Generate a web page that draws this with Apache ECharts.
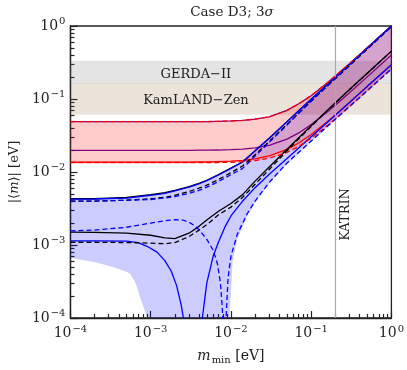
<!DOCTYPE html>
<html>
<head>
<meta charset="utf-8">
<script src="https://cdn.jsdelivr.net/npm/echarts@6/dist/echarts.min.js"></script>
<style>
  html, body { margin: 0; padding: 0; background: #fff; }
  #chart { width: 407px; height: 370px; }
</style>
</head>
<body>
<div id="chart"></div>
<script>
  // m_min grid (eV) for the smooth curves
  const mGrid = [1e-4, 2e-4, 5e-4, 1e-3, 1.5e-3, 2e-3, 3e-3, 4e-3, 5e-3, 7e-3, 1e-2, 1.4e-2,
    2e-2, 3e-2, 5e-2, 7e-2, 0.1, 0.15, 0.2, 0.3, 0.5, 0.7, 1];

  // inverted ordering (red band + purple/red model lines)
  const ioUpper = [0.049, 0.049, 0.049, 0.049, 0.049, 0.049, 0.049, 0.049, 0.049, 0.0495, 0.050, 0.051,
    0.053, 0.057, 0.070, 0.086, 0.111, 0.158, 0.206, 0.304, 0.502, 0.70, 1.0];
  const ioLower = [0.0135, 0.0135, 0.0135, 0.0135, 0.0135, 0.0135, 0.0135, 0.0135, 0.0135, 0.0135, 0.0136, 0.0138,
    0.0143, 0.0154, 0.0185, 0.0224, 0.029, 0.041, 0.053, 0.0786, 0.130, 0.181, 0.258];
  const purpleMid = [0.0198, 0.0198, 0.0198, 0.0198, 0.0198, 0.0198, 0.0198, 0.0199, 0.0199, 0.0200, 0.0202, 0.0206,
    0.0214, 0.0232, 0.0282, 0.0343, 0.0447, 0.0632, 0.0824, 0.1216, 0.201, 0.281, 0.40];
  const redSolidLow = [0.0136, 0.0136, 0.0136, 0.0136, 0.0136, 0.0136, 0.0136, 0.0137, 0.0137, 0.0139, 0.0141, 0.0144,
    0.0151, 0.0166, 0.0204, 0.0250, 0.0327, 0.0465, 0.0606, 0.0896, 0.148, 0.207, 0.295];

  // normal ordering (blue band + blue/black model lines)
  const nuUpper = [0.00425, 0.00427, 0.0044, 0.0048, 0.0051, 0.0055, 0.0062, 0.0069, 0.0076, 0.0091, 0.0112, 0.0138,
    0.0195, 0.029, 0.049, 0.069, 0.099, 0.149, 0.199, 0.30, 0.50, 0.70, 1.0];
  const blackSolidUp = [0.0043, 0.0043, 0.0045, 0.0049, 0.0052, 0.0056, 0.0063, 0.0070, 0.0077, 0.0092, 0.0113, 0.0137,
    0.0196, 0.029, 0.049, 0.069, 0.099, 0.149, 0.199, 0.30, 0.50, 0.70, 1.0];
  const blackDashUp = [0.0040, 0.0040, 0.0041, 0.0043, 0.0045, 0.0048, 0.0054, 0.0060, 0.0066, 0.0079, 0.0098, 0.0121,
    0.0172, 0.0262, 0.045, 0.064, 0.093, 0.141, 0.189, 0.286, 0.48, 0.68, 0.97];
  const blueDashUp = [0.0040, 0.0040, 0.0041, 0.0042, 0.0044, 0.0046, 0.0051, 0.0056, 0.0062, 0.0074, 0.0092, 0.0112,
    0.0165, 0.0255, 0.044, 0.064, 0.094, 0.143, 0.192, 0.29, 0.49, 0.69, 0.99];
  const blackSolidLow = [0.00150, 0.00149, 0.00145, 0.00136, 0.00125, 0.00122, 0.00145, 0.0018, 0.0022, 0.0029, 0.0037, 0.0049,
    0.0075, 0.0117, 0.0205, 0.0295, 0.043, 0.066, 0.089, 0.135, 0.225, 0.316, 0.453];
  const blackDashLow = [0.00109, 0.00109, 0.00108, 0.00106, 0.00104, 0.00108, 0.00130, 0.0016, 0.0019, 0.0026, 0.0033, 0.0045,
    0.0068, 0.0108, 0.0195, 0.0285, 0.042, 0.065, 0.088, 0.134, 0.224, 0.315, 0.452];

  const blueSolidLowM = [1e-4, 2e-4, 5e-4, 7e-4, 9e-4, 1.2e-3, 1.5e-3, 1.8e-3, 2.1e-3, 2.4e-3, 2.7e-3, 3.0e-3, 3.4e-3,
    3.9e-3, 4.4e-3, 5e-3, 6e-3, 7e-3, 8.5e-3, 1e-2, 1.4e-2, 2e-2, 3e-2, 5e-2, 0.1, 0.2, 0.5, 1];
  const blueSolidLow = [1.14e-3, 1.14e-3, 1.13e-3, 1.08e-3, 9.6e-4, 8.0e-4, 6.1e-4, 4.4e-4, 2.8e-4, 1.5e-4, 7e-5, 3e-5, 1e-6,
    4e-5, 1.0e-4, 3e-4, 7e-4, 1.1e-3, 1.8e-3, 2.5e-3, 4.0e-3, 6.1e-3, 9.3e-3, 0.0153, 0.0305, 0.060, 0.149, 0.295];

  const blueDashLowM = [1e-4, 2e-4, 5e-4, 1e-3, 1.5e-3, 2e-3, 2.5e-3, 3e-3, 3.5e-3, 4e-3, 5e-3, 6e-3, 6.8e-3, 7.4e-3,
    7.8e-3, 8.1e-3, 8.4e-3, 8.7e-3, 9.2e-3, 1e-2, 1.2e-2, 1.6e-2, 2e-2, 3e-2, 5e-2, 0.1, 0.2, 0.5, 1];
  const blueDashLow = [1.56e-3, 1.6e-3, 1.75e-3, 2.0e-3, 2.15e-3, 2.22e-3, 2.2e-3, 2.05e-3, 1.85e-3, 1.62e-3, 1.2e-3, 8.5e-4,
    5.5e-4, 3.0e-4, 1.4e-4, 5e-5, 1e-6, 1.0e-4, 3.5e-4, 7e-4, 1.4e-3, 2.7e-3, 4.0e-3, 7.2e-3, 0.0133, 0.0265, 0.053, 0.130, 0.258];

  const nuLowerM = [1e-4, 2e-4, 3e-4, 4e-4, 5e-4, 5.6e-4, 6.5e-4, 7.3e-4, 8e-4, 8.9e-4, 1e-3, 3e-3, 9e-3, 9.6e-3,
    1.05e-2, 1.2e-2, 1.6e-2, 2e-2, 3e-2, 5e-2, 0.1, 0.2, 0.5, 1];
  const nuLower = [6.7e-4, 5.8e-4, 5.2e-4, 4.7e-4, 4.3e-4, 4.0e-4, 3.0e-4, 2.0e-4, 1.5e-4, 1.06e-4, 6e-5, 1e-6, 5e-5, 1.0e-4,
    6e-4, 1.2e-3, 2.5e-3, 3.8e-3, 6.9e-3, 0.0128, 0.026, 0.052, 0.128, 0.255];

  // experimental bounds
  const gerdaRange = [0.163, 0.333];
  const kamlandRange = [0.061, 0.165];
  const katrinLimit = 0.2;

  const xMajor = [1e-4, 1e-3, 1e-2, 1e-1, 1];
  const yMajor = [1e-4, 1e-3, 1e-2, 1e-1, 1];
  const minor = [];
  for (let d = -4; d < 0; d++) {
    for (let k = 2; k <= 9; k++) minor.push(k * Math.pow(10, d));
  }

  const FONT = 'DejaVu Serif';
  const zip = (ms, vs) => ms.map((m, i) => [m, vs[i]]);

  const powLabel = function (value) {
    const e = Math.round(Math.log10(value));
    return '{b|10}{e|' + (e < 0 ? '\u2212' + (-e) : e) + '}';
  };
  const powRich = {
    b: {fontFamily: FONT, fontSize: 14, color: '#222'},
    e: {fontFamily: FONT, fontSize: 10, color: '#222', padding: [0, 0, 9, 1]}
  };

  function band(name, upM, upV, loM, loV, color, z) {
    return {
      type: 'custom',
      name: name,
      silent: true,
      z: z,
      data: [0],
      renderItem(params, api) {
        const cs = params.coordSys;
        const yMax = cs.y + cs.height;
        const pts = [];
        upM.forEach((m, i) => pts.push(api.coord([m, upV[i]])));
        for (let i = loM.length - 1; i >= 0; i--) pts.push(api.coord([loM[i], loV[i]]));
        pts.forEach(p => {
          if (!isFinite(p[1]) || p[1] > yMax) p[1] = yMax;
        });
        return {type: 'polygon', shape: {points: pts}, style: {fill: color}};
      }
    };
  }

  function line(name, data, color, dashed, z) {
    return {
      type: 'line',
      name: name,
      data: data,
      showSymbol: false,
      silent: true,
      clip: true,
      z: z,
      lineStyle: {color: color, width: 1.3, type: dashed ? [5, 3] : 'solid'}
    };
  }

  const chart = echarts.init(document.getElementById('chart'));
  chart.setOption({
    animation: false,
    backgroundColor: '#fff',
    title: {
      text: '{a|Case D3; 3}{i|\u03c3}',
      left: 227,
      top: 0,
      textAlign: 'center',
      textStyle: {
        fontWeight: 'normal',
        rich: {
          a: {fontFamily: FONT, fontSize: 13.5, fontWeight: 'normal', color: '#222'},
          i: {fontFamily: FONT, fontSize: 13.5, fontWeight: 'normal', fontStyle: 'italic', color: '#222'}
        }
      }
    },
    grid: {left: 61, top: 26, width: 333, height: 299, show: true, borderColor: '#222', borderWidth: 1.3},
    xAxis: [{
      type: 'log',
      logBase: 10,
      min: 1e-4,
      max: 1,
      name: '{i|m}{s|min}{a| [eV]}',
      nameLocation: 'middle',
      nameGap: 30,
      nameTextStyle: {
        rich: {
          i: {fontFamily: FONT, fontSize: 14, fontStyle: 'italic', color: '#222'},
          s: {fontFamily: FONT, fontSize: 10, color: '#222', padding: [7, 0, 0, 1]},
          a: {fontFamily: FONT, fontSize: 14, color: '#222'}
        }
      },
      axisLine: {show: true, lineStyle: {color: '#222', width: 1.3}},
      axisTick: {show: true, inside: true, length: 7, customValues: xMajor, lineStyle: {color: '#222', width: 1.2}},
      axisLabel: {customValues: xMajor, margin: 6, formatter: powLabel, rich: powRich},
      splitLine: {show: false}
    }, {
      type: 'log',
      logBase: 10,
      min: 1e-4,
      max: 1,
      position: 'bottom',
      axisLine: {show: false},
      axisTick: {show: true, inside: true, length: 4, customValues: minor, lineStyle: {color: '#222', width: 1.2}},
      axisLabel: {show: false},
      splitLine: {show: false}
    }],
    yAxis: [{
      type: 'log',
      logBase: 10,
      min: 1e-4,
      max: 1,
      name: '{a||\u27e8}{i|m}{a|\u27e9| [eV]}',
      nameLocation: 'middle',
      nameGap: 42,
      nameRotate: 90,
      nameTextStyle: {
        rich: {
          a: {fontFamily: FONT, fontSize: 13, color: '#222'},
          i: {fontFamily: FONT, fontSize: 13, fontStyle: 'italic', color: '#222'}
        }
      },
      axisLine: {show: true, lineStyle: {color: '#222', width: 1.3}},
      axisTick: {show: true, inside: true, length: 7, customValues: yMajor, lineStyle: {color: '#222', width: 1.2}},
      axisLabel: {customValues: yMajor, margin: 5, formatter: powLabel, rich: powRich},
      splitLine: {show: false}
    }, {
      type: 'log',
      logBase: 10,
      min: 1e-4,
      max: 1,
      position: 'left',
      axisLine: {show: false},
      axisTick: {show: true, inside: true, length: 4, customValues: minor, lineStyle: {color: '#222', width: 1.2}},
      axisLabel: {show: false},
      splitLine: {show: false}
    }],
    graphic: [{
      type: 'text',
      left: 339,
      top: 188,
      rotation: Math.PI / 2,
      style: {text: 'KATRIN', font: '13px "DejaVu Serif"', fill: '#222'}
    }],
    series: [
      {
        type: 'line',
        name: 'bounds',
        data: [],
        silent: true,
        z: 0,
        markArea: {
          silent: true,
          label: {fontFamily: FONT, fontSize: 13, color: '#222', position: 'inside', offset: [-35, 2]},
          data: [
            [{yAxis: gerdaRange[0], name: 'GERDA\u2212II', itemStyle: {color: 'rgba(120,120,120,0.2)'}}, {yAxis: gerdaRange[1]}],
            [{yAxis: kamlandRange[0], name: 'KamLAND\u2212Zen', itemStyle: {color: 'rgba(150,100,50,0.18)'}}, {yAxis: kamlandRange[1]}]
          ]
        },
        markLine: {
          silent: true,
          symbol: 'none',
          label: {show: false},
          lineStyle: {color: '#aaa', width: 1.2, type: 'solid'},
          data: [{xAxis: katrinLimit}]
        }
      },
      band('NO band', mGrid, nuUpper, nuLowerM, nuLower, 'rgba(0,0,255,0.2)', 1),
      band('IO band', mGrid, ioUpper, mGrid, ioLower, 'rgba(255,0,0,0.2)', 2),
      line('IO mid', zip(mGrid, purpleMid), '#800080', false, 3),
      line('IO top', zip(mGrid, ioUpper), '#800080', false, 3),
      line('IO low', zip(mGrid, redSolidLow), '#ff0000', false, 3),
      line('NO up black', zip(mGrid, blackSolidUp), '#000', false, 4),
      line('NO up blue', zip(mGrid, nuUpper), '#0000ff', false, 4),
      line('NO low black', zip(mGrid, blackSolidLow), '#000', false, 4),
      line('NO low blue', zip(blueSolidLowM, blueSolidLow), '#0000ff', false, 4),
      line('IO top dash', zip(mGrid, ioUpper), '#ff0000', true, 5),
      line('IO low dash', zip(mGrid, ioLower), '#ff0000', true, 5),
      line('NO up black dash', zip(mGrid, blackDashUp), '#000', true, 5),
      line('NO low black dash', zip(mGrid, blackDashLow), '#000', true, 5),
      line('NO up blue dash', zip(mGrid, blueDashUp), '#0000ff', true, 5),
      line('NO low blue dash', zip(blueDashLowM, blueDashLow), '#0000ff', true, 5)
    ]
  });
</script>
</body>
</html>
